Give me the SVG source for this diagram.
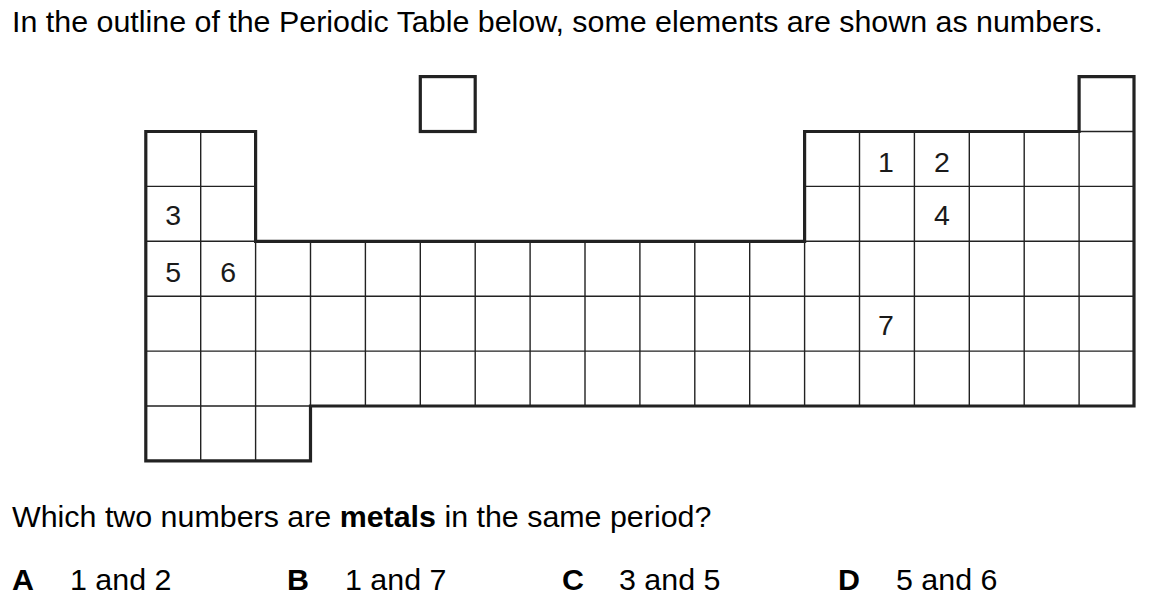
<svg xmlns="http://www.w3.org/2000/svg" width="1151" height="606" viewBox="0 0 1151 606">
<style>
.txt{font-family:"Liberation Sans",Arial,sans-serif;font-size:30.4px;fill:#000}
.num{font-family:"Liberation Sans",Arial,sans-serif;font-size:28.5px;fill:#1a1a1a;text-anchor:middle}
.b{font-weight:bold}
.thin{stroke:#222;stroke-width:1.4;fill:none}
.thick{stroke:#222;stroke-width:3.2;fill:none;stroke-linejoin:miter;stroke-linecap:square}
</style>
<rect width="1151" height="606" fill="#fff"/>
<text class="txt" x="12" y="31.7">In the outline of the Periodic Table below, some elements are shown as numbers.</text>
<g id="table">
<g id="grid-thin" class="thin">
<path d="M145.8 186.4H255.6 M804.6 186.4H1134 M1079.1 131.5H1134 M145.8 241.3H255.6 M804.6 241.3H1134 M145.8 296.2H1134 M145.8 351.1H1134 M145.8 406H310.5"/>
<path d="M200.7 131.5V460.9 M255.6 241.3V460.9 M310.5 241.3V406 M365.4 241.3V406 M420.3 241.3V406 M475.2 241.3V406 M530.1 241.3V406 M585 241.3V406 M639.9 241.3V406 M694.8 241.3V406 M749.7 241.3V406 M804.6 241.3V406 M859.5 131.5V406 M914.4 131.5V406 M969.3 131.5V406 M1024.2 131.5V406 M1079.1 131.5V406"/>
</g>
<g id="outline" class="thick">
<path d="M145.8 131.5H255.6V241.3H804.6V131.5H1079.1V76.6H1134V406H310.5V460.9H145.8Z"/>
<rect x="420.3" y="76.6" width="54.9" height="54.9"/>
</g>
<g id="labels">
<text class="num" x="886" y="172.3">1</text>
<text class="num" x="941.9" y="172.3">2</text>
<text class="num" x="173.2" y="225">3</text>
<text class="num" x="941.9" y="225">4</text>
<text class="num" x="173.2" y="281.7">5</text>
<text class="num" x="228.1" y="281.7">6</text>
<text class="num" x="886" y="335">7</text>
</g>
</g>
<text class="txt" x="12" y="526.7">Which two numbers are <tspan class="b">metals</tspan> in the same period?</text>
<g id="options">
<text class="txt b" x="12" y="590">A</text>
<text class="txt" x="70" y="590">1 and 2</text>
<text class="txt b" x="287" y="590">B</text>
<text class="txt" x="345" y="590">1 and 7</text>
<text class="txt b" x="562" y="590">C</text>
<text class="txt" x="619" y="590">3 and 5</text>
<text class="txt b" x="838" y="590">D</text>
<text class="txt" x="896" y="590">5 and 6</text>
</g>
</svg>
